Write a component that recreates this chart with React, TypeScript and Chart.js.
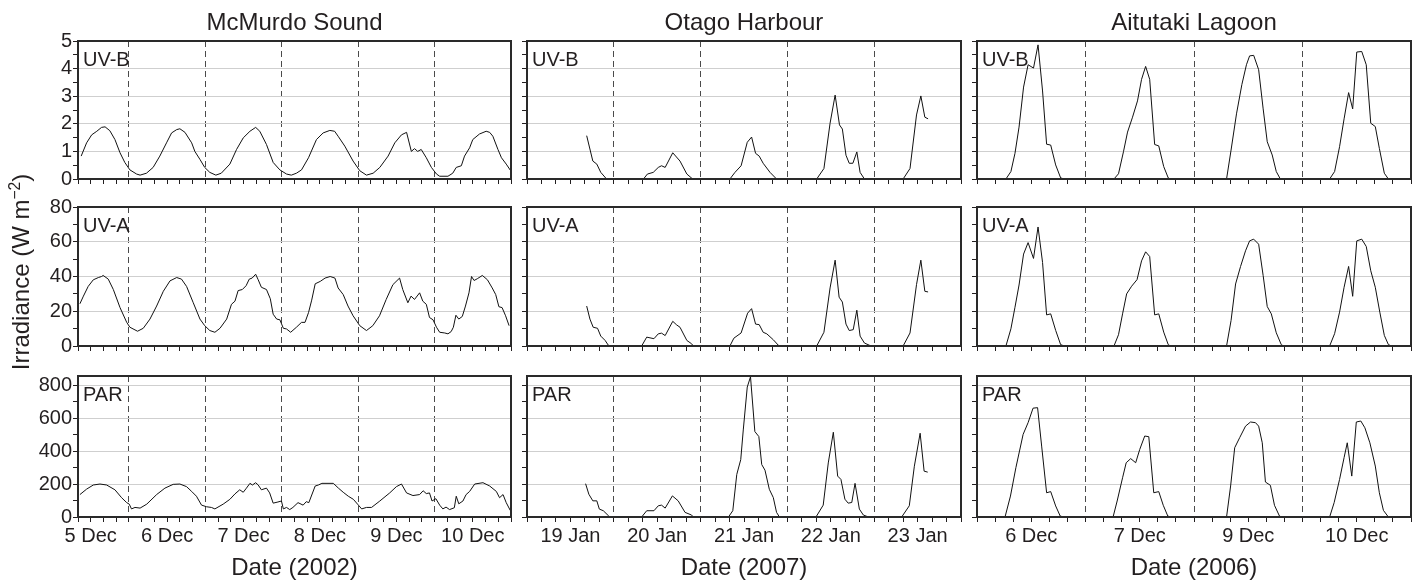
import React, { useEffect, useRef } from "react";
import { Chart, registerables } from "chart.js";

Chart.register(...registerables);

const FONT = '"Liberation Sans", Arial, Helvetica, sans-serif';
const INK = "#231f20";

// ---------------- text / category labels ----------------
const siteTitles = ["McMurdo Sound", "Otago Harbour", "Aitutaki Lagoon"];
const xAxisTitles = ["Date (2002)", "Date (2007)", "Date (2006)"];
const bandNames = ["UV-B", "UV-A", "PAR"];
const mcmDays = ["5 Dec", "6 Dec", "7 Dec", "8 Dec", "9 Dec", "10 Dec"];
const otaDays = ["19 Jan", "20 Jan", "21 Jan", "22 Jan", "23 Jan"];
const aitDays = ["6 Dec", "7 Dec", "9 Dec", "10 Dec"];

// ---------------- McMurdo Sound (hours from 5 Dec 00:00) ----------------
const mcmHoursUVB = [9, 10.7, 12.3, 13.9, 15.4, 16.5, 18, 19.6, 21.2, 22.7, 24.3, 26.4, 27.5, 29.5, 31.6, 33.7, 35.8, 37.4, 39, 40, 41.6, 43.7, 44.7, 46.3, 47.8, 49.4, 51.3, 53, 55.7, 57.8, 59.9, 62, 63.8, 65.1, 67.2, 69.3, 71.4, 73.5, 75, 76.6, 78.2, 80.4, 82.9, 85, 87.1, 88.6, 89.7, 91.8, 94.4, 96.5, 98.6, 100.7, 102.8, 105.4, 107.5, 109.6, 111.2, 112.7, 113.7, 114.7, 115.8, 117.4, 119, 120.6, 121.6, 124.2, 125.7, 126.8, 128.4, 129.4, 131, 132, 134.1, 136.2, 137.3, 138.3, 139.9, 141, 142.5, 143.9];
const mcmUVB = [0.83, 1.31, 1.6, 1.73, 1.87, 1.89, 1.75, 1.43, 0.95, 0.6, 0.33, 0.18, 0.14, 0.21, 0.42, 0.83, 1.31, 1.67, 1.79, 1.82, 1.69, 1.31, 1.0, 0.71, 0.42, 0.24, 0.14, 0.21, 0.54, 1.07, 1.49, 1.73, 1.87, 1.73, 1.25, 0.6, 0.33, 0.18, 0.14, 0.21, 0.33, 0.77, 1.43, 1.67, 1.76, 1.73, 1.55, 1.19, 0.65, 0.3, 0.14, 0.21, 0.42, 0.83, 1.31, 1.6, 1.69, 1.0, 1.1, 1.0, 1.07, 0.77, 0.42, 0.18, 0.1, 0.1, 0.21, 0.42, 0.48, 0.83, 1.13, 1.43, 1.63, 1.73, 1.69, 1.55, 1.07, 0.77, 0.54, 0.3];

const mcmHoursUVA = [8.6, 9.7, 11.2, 12.8, 14.4, 15.4, 15.9, 17.5, 19.1, 21.2, 23.3, 24.3, 26.7, 28.5, 30.6, 32.7, 34.8, 36.9, 39, 40.5, 42.1, 44.2, 46.3, 47.8, 49.4, 51, 52.6, 54.7, 56.2, 57.3, 58.3, 59.6, 60.8, 61.8, 62.7, 63.8, 64.6, 65.6, 67.2, 68.4, 69.3, 70.4, 71.4, 72.5, 73.5, 74.8, 76.6, 78.2, 79.3, 80.4, 81.4, 82.5, 84.1, 85.6, 87.2, 88.7, 89.7, 91.3, 92.8, 94.4, 96.5, 98.6, 100.6, 102.7, 104.8, 106.9, 109, 110, 111.6, 112.6, 113.7, 115.3, 116.3, 117.4, 118.4, 119.5, 120.6, 121.6, 123.2, 124.2, 125.2, 125.9, 126.7, 127.6, 128.7, 129.7, 130.8, 131.6, 132.4, 133.4, 135, 136.6, 138.1, 139.2, 140.2, 141.2, 142.3, 143.4];
const mcmUVA = [24.3, 28.7, 34.3, 38.1, 39.4, 40, 40.6, 38.5, 32.5, 22.1, 13.6, 10.8, 8.5, 10.2, 15.5, 23, 31.5, 37.5, 39.4, 38.5, 34.3, 24.9, 15.5, 11.7, 8.9, 7.9, 10.2, 15.5, 24, 25.8, 31.9, 32.5, 34.7, 38.5, 39.1, 41.3, 38.1, 33.8, 32.5, 27.2, 18.3, 15.5, 15.1, 10.2, 9.8, 7.9, 10.8, 13.6, 13.6, 19.2, 26.4, 35.8, 37.2, 39.1, 40, 39.1, 33.4, 29.6, 23, 17.4, 11.7, 8.9, 11.7, 17.4, 26.8, 35.3, 39.1, 32.5, 24.9, 28.7, 26.8, 30.6, 25.8, 24, 16.4, 15.1, 10.8, 7.9, 7.5, 7, 8.3, 10.8, 17.7, 15.5, 17, 23, 30.6, 40, 37.7, 38.7, 40.6, 38.1, 33.4, 29.6, 22.6, 22.1, 17.4, 11.7];

const mcmHoursPAR = [8.6, 10.7, 12.8, 14.9, 17, 19.6, 21.7, 23.3, 24.1, 24.8, 25.9, 27.5, 29.6, 32.7, 35.3, 37.9, 40, 42.1, 43.7, 45.2, 46.8, 48.4, 49.9, 51, 53.6, 55.7, 57.3, 58.8, 59.9, 60.9, 62, 62.8, 63.8, 64.6, 65.6, 67.2, 68.2, 69.3, 70.8, 71.9, 72.5, 73.5, 74.5, 75.5, 77.1, 78.7, 79.7, 80.5, 82.5, 83.5, 84.6, 88.2, 89.8, 91.3, 92.9, 94.5, 95.8, 97.1, 98.6, 100.2, 102.8, 105.9, 108, 109.6, 111.2, 113.2, 115.3, 116.4, 117.4, 118.4, 119.2, 120.4, 121.6, 122.6, 123.6, 124.7, 126.2, 126.8, 127.6, 128.9, 129.9, 131, 132.6, 135.2, 137.3, 139.4, 140.4, 141.5, 142.5, 143.8];
const mcmPAR = [136, 169, 194, 200, 194, 165, 117, 87, 78, 49, 58, 54, 78, 136, 175, 198, 200, 184, 155, 126, 72, 62, 58, 49, 78, 107, 140, 165, 150, 175, 204, 194, 208, 194, 165, 175, 146, 84, 91, 97, 49, 58, 45, 58, 87, 72, 93, 87, 188, 194, 204, 204, 175, 150, 126, 107, 78, 49, 58, 58, 97, 146, 184, 200, 146, 130, 136, 159, 142, 146, 97, 111, 72, 49, 60, 45, 56, 126, 80, 97, 136, 155, 200, 208, 188, 155, 117, 136, 87, 39];

// ---------------- Otago Harbour (hours from 19 Jan 00:00) ----------------
const otaHoursUVB = [16.5, 18.2, 19.3, 20.4, 22, 32.2, 33.3, 34.9, 36.3, 37.2, 38.2, 40.3, 42.3, 44.2, 45.8, 56.1, 57.5, 59.2, 60.9, 62.1, 63.2, 64.2, 65.3, 67.2, 69, 80.1, 82.1, 83.8, 85.2, 86.4, 87.2, 88.2, 89.1, 90.1, 91.2, 92.1, 93.3, 104, 105.9, 107.7, 108.9, 110, 110.9];
const otaUVB = [1.57, 0.65, 0.54, 0.24, 0, 0, 0.18, 0.24, 0.42, 0.48, 0.42, 0.95, 0.65, 0.18, 0, 0, 0.24, 0.48, 1.33, 1.52, 0.93, 0.83, 0.57, 0.24, 0, 0, 0.38, 2.02, 3.04, 1.96, 1.81, 0.86, 0.57, 0.57, 0.98, 0.24, 0, 0, 0.38, 2.32, 3.01, 2.24, 2.18];

const otaHoursUVA = [16.5, 17.4, 18.3, 19.5, 20.4, 21.6, 22.5, 23, 31.7, 33.1, 35.1, 36.3, 37.2, 38.2, 40.3, 41.4, 42.3, 44.2, 45.5, 46, 56.1, 57.2, 59.2, 61, 62.1, 63.2, 64.2, 65.3, 66.3, 68.1, 69.5, 70, 80.1, 82.1, 83.8, 85.2, 86.3, 87.2, 88.2, 89.1, 90.2, 91.2, 92.1, 93.3, 94.7, 95, 104, 105.9, 107.7, 108.9, 110, 110.9];
const otaUVA = [23, 15.5, 10.8, 10.2, 5.7, 3.2, 0.4, 0, 0, 5.1, 4.2, 7, 7.4, 6, 14.2, 12.1, 10.8, 3.2, 1.3, 0, 0, 4.5, 7.5, 18.9, 21.5, 12.6, 12.3, 7.9, 7, 3.6, 0.4, 0, 0, 7.9, 33.4, 49.4, 28.1, 25.3, 12.6, 8.9, 9.4, 20.6, 5.7, 1.7, 0.4, 0, 0, 7.5, 35.3, 49.4, 31.5, 31.1];

const otaHoursPAR = [16.2, 17.1, 18.2, 19.3, 20, 21.1, 22.5, 22.9, 31.7, 33.1, 35.1, 36.3, 37.2, 38.2, 40.2, 41.8, 43.7, 45.5, 46, 55.7, 56.9, 58, 59.1, 59.8, 60.9, 61.8, 63, 64.1, 64.9, 65.8, 67, 68.1, 69, 69.8, 79.9, 81.9, 83.3, 84.7, 85.9, 86.8, 87.9, 88.8, 89.8, 90.7, 91.9, 93, 94.4, 103.6, 105.7, 107.1, 108.7, 109.8, 110.8];
const otaPAR = [202, 138, 98, 98, 48, 38, 8, 0, 0, 38, 38, 68, 72, 54, 128, 98, 28, 12, 0, 0, 38, 258, 348, 528, 788, 850, 518, 488, 318, 284, 168, 118, 28, 0, 0, 72, 328, 514, 248, 228, 108, 84, 88, 204, 48, 12, 0, 0, 68, 308, 508, 278, 272];

// ---------------- Aitutaki Lagoon (hours across the four sampled days) ----------------
const aitHoursUVB = [6.4, 7.5, 8.4, 9.3, 10.3, 11.3, 12.5, 13.5, 14.5, 15.4, 16.3, 17.4, 18.5, 19.3, 30.3, 31.3, 32.4, 33.3, 34.4, 35.5, 36.4, 37.3, 38.2, 39.3, 40.2, 41.3, 42.3, 42.8, 55.2, 56.2, 57.4, 58.6, 59.6, 60.3, 61.2, 62.3, 63.3, 64.2, 65.3, 66.2, 67.1, 78, 79.1, 80.2, 81.2, 82.2, 83.1, 84, 85.1, 86.1, 87.1, 88.1, 89, 90.1, 91];
const aitUVB = [0, 0.27, 0.93, 1.88, 3.33, 4.14, 4.02, 4.86, 3.19, 1.26, 1.23, 0.51, 0.04, 0, 0, 0.19, 0.99, 1.7, 2.24, 2.83, 3.61, 4.08, 3.61, 1.25, 1.2, 0.45, 0.04, 0, 0, 1.05, 2.36, 3.43, 4.14, 4.46, 4.48, 3.96, 2.54, 1.35, 0.87, 0.27, 0, 0, 0.27, 1.17, 2.18, 3.13, 2.54, 4.6, 4.62, 4.14, 2.02, 1.9, 1.11, 0.21, 0];

const aitHoursUVA = [6.4, 7.5, 8.4, 9.3, 10.3, 11.3, 12.5, 13.5, 14.5, 15.4, 16.3, 17.4, 18.5, 19.3, 30.3, 31.3, 32.2, 33.1, 34.2, 35.4, 36.4, 37.3, 38.2, 39.3, 40.2, 41.3, 42.3, 42.8, 55.2, 56.2, 57.2, 58.3, 59.4, 60.3, 61.2, 62.3, 63.3, 64.2, 65.1, 66.2, 67.3, 67.8, 78, 79.1, 80.2, 81.2, 82.2, 83.1, 84, 85.1, 86.1, 87.1, 88.1, 89.1, 90.1, 91, 91.7];
const aitUVA = [0, 9.9, 22.3, 35.1, 52.9, 59.5, 50.4, 68.5, 48.1, 17.9, 18.5, 9, 0.8, 0, 0, 6.5, 18.5, 30, 34.4, 38.2, 49, 54.2, 51.5, 17.9, 18.5, 8, 0.8, 0, 0, 14.7, 35.7, 45.8, 54.8, 60.5, 61.5, 58.6, 40.5, 22.7, 18.5, 7.6, 0.8, 0, 0, 7.1, 19.5, 33.8, 45.8, 28.6, 60.5, 61.5, 57.3, 43.3, 33.8, 19.5, 6.1, 0.8, 0];

const aitHoursPAR = [6.2, 7.4, 8.6, 10.2, 11.3, 12.4, 13.4, 14.3, 15.4, 16.3, 17.4, 18.4, 19.1, 30.1, 31, 32.2, 33, 34, 35.1, 36, 37.1, 38, 39.1, 40.2, 41.2, 42.2, 42.8, 55.2, 56.1, 57, 58.1, 59.4, 60.5, 61.6, 62.3, 63.1, 63.8, 64.9, 65.8, 66.9, 67.4, 78, 79, 80.2, 81.2, 81.9, 82.9, 83.9, 84.9, 85.8, 86.9, 88.1, 89, 89.9, 91];
const aitPAR = [0, 127, 299, 501, 572, 660, 663, 430, 147, 154, 67, 6, 0, 0, 97, 238, 329, 354, 329, 410, 491, 487, 147, 154, 71, 6, 0, 0, 188, 420, 481, 551, 576, 572, 551, 450, 212, 192, 71, 6, 0, 0, 87, 228, 360, 450, 248, 576, 582, 541, 450, 309, 147, 40, 0];

// ---------------- structure ----------------
const sites = [
  { min: 8, max: 144, days: mcmDays },
  { min: 0, max: 120, days: otaDays },
  { min: 0, max: 96, days: aitDays },
];
const yBands = [
  { max: 5, step: 0.5, major: 1 },
  { max: 80, step: 10, major: 20 },
  { max: 855, step: 100, major: 200 },
];
const series = [
  [[mcmHoursUVB, mcmUVB], [otaHoursUVB, otaUVB], [aitHoursUVB, aitUVB]],
  [[mcmHoursUVA, mcmUVA], [otaHoursUVA, otaUVA], [aitHoursUVA, aitUVA]],
  [[mcmHoursPAR, mcmPAR], [otaHoursPAR, otaPAR], [aitHoursPAR, aitPAR]],
];

// layout (plot-area rectangles)
const colLeft = [78, 527, 977];
const colRight = [511, 961, 1411];
const rowTop = [40, 206, 375];
const rowBottom = [180, 347, 517];

const CLEAR = "rgba(0,0,0,0)";

function Panel({ row, col }: { row: number; col: number }) {
  const ref = useRef<HTMLCanvasElement | null>(null);
  const padL = col === 0 ? 60 : 10;
  const padT = 12;
  const padR = 6;
  const padB = row === 2 ? 40 : 12;
  const plotW = colRight[col] - colLeft[col];
  const plotH = rowBottom[row] - rowTop[row];
  const cw = plotW + padL + padR;
  const ch = plotH + padT + padB;

  useEffect(() => {
    const site = sites[col];
    const band = yBands[row];
    const [xs, ys] = series[row][col];
    const label = bandNames[row];

    const xTicks: number[] = [];
    for (let v = site.min; v <= site.max + 1e-9; v += 4) xTicks.push(v);
    const yTicks: number[] = [];
    for (let v = 0; v <= band.max + 1e-9; v += band.step) yTicks.push(Math.round(v * 1000) / 1000);

    const isMajor = (v: number) => Math.abs(v / band.major - Math.round(v / band.major)) < 1e-6;
    const isMidnight = (v: number) => v > site.min && v < site.max && Math.abs(v / 24 - Math.round(v / 24)) < 1e-6;

    const panelPlugin = {
      id: "panelFrame",
      beforeDatasetsDraw(chart: any) {
        const { ctx, chartArea } = chart;
        ctx.save();
        ctx.font = `20px ${FONT}`;
        ctx.fillStyle = INK;
        ctx.textBaseline = "alphabetic";
        ctx.textAlign = "left";
        ctx.fillText(label, chartArea.left + 5, chartArea.top + 25);
        ctx.restore();
      },
      afterDraw(chart: any) {
        const { ctx, chartArea } = chart;
        ctx.save();
        ctx.strokeStyle = "#2a2a2a";
        ctx.lineWidth = 2;
        ctx.setLineDash([]);
        ctx.strokeRect(chartArea.left, chartArea.top, chartArea.right - chartArea.left, chartArea.bottom - chartArea.top);
        ctx.restore();
      },
    };

    const chart = new Chart(ref.current as HTMLCanvasElement, {
      type: "line",
      data: {
        datasets: [
          {
            data: xs.map((x, i) => ({ x, y: ys[i] })),
            borderColor: "#111",
            borderWidth: 1,
            pointRadius: 0,
            tension: 0,
            fill: false,
          },
        ],
      },
      options: {
        animation: false,
        responsive: false,
        devicePixelRatio: 1,
        events: [],
        layout: { padding: { left: 0, top: padT, right: padR, bottom: 0 }, autoPadding: false },
        plugins: { legend: { display: false }, tooltip: { enabled: false }, title: { display: false } },
        scales: {
          x: {
            type: "linear",
            min: site.min,
            max: site.max,
            afterBuildTicks: (s: any) => {
              s.ticks = xTicks.map((v) => ({ value: v }));
            },
            afterFit: (s: any) => {
              s.height = padB;
            },
            ticks: {
              autoSkip: false,
              maxRotation: 0,
              minRotation: 0,
              padding: 2,
              color: INK,
              font: { family: FONT, size: 20 },
              callback: (value: any) => {
                if (row !== 2) return "";
                const k = (Number(value) - 12) / 24;
                if (Math.abs(k - Math.round(k)) < 1e-6) {
                  const idx = Math.round(k);
                  if (idx >= 0 && idx < site.days.length) return site.days[idx];
                }
                return "";
              },
            },
            grid: {
              color: (ctx: any) => (ctx.tick && isMidnight(ctx.tick.value) ? "#4a4a4a" : CLEAR),
              lineWidth: 1,
              drawTicks: true,
              tickLength: 5,
              tickColor: INK,
              tickWidth: 1,
            },
            border: { display: false, dash: [6, 4] },
          },
          y: {
            type: "linear",
            min: 0,
            max: band.max,
            afterBuildTicks: (s: any) => {
              s.ticks = yTicks.map((v) => ({ value: v }));
            },
            afterFit: (s: any) => {
              s.width = padL;
            },
            ticks: {
              autoSkip: false,
              padding: 1,
              color: INK,
              font: { family: FONT, size: 20 },
              callback: (value: any) => {
                const v = Number(value);
                return col === 0 && isMajor(v) ? String(v) : "";
              },
            },
            grid: {
              color: (ctx: any) => {
                if (!ctx.tick) return CLEAR;
                const v = ctx.tick.value;
                return isMajor(v) && v > 0 && v < band.max - 1e-6 ? "#cfcfcf" : CLEAR;
              },
              lineWidth: 1,
              drawTicks: true,
              tickLength: 5,
              tickColor: INK,
              tickWidth: 1,
            },
            border: { display: false },
          },
        },
      } as any,
      plugins: [panelPlugin],
    });
    return () => chart.destroy();
  }, [row, col]);

  return (
    <canvas
      ref={ref}
      width={cw}
      height={ch}
      style={{ position: "absolute", left: colLeft[col] - padL, top: rowTop[row] - padT, width: cw, height: ch }}
    />
  );
}

export default function App() {
  const panels: React.ReactNode[] = [];
  for (let r = 0; r < 3; r++) for (let c = 0; c < 3; c++) panels.push(<Panel key={`${r}-${c}`} row={r} col={c} />);
  return (
    <div
      style={{
        position: "fixed",
        left: 0,
        top: 0,
        width: 1417,
        height: 581,
        background: "#fff",
        overflow: "hidden",
        fontFamily: FONT,
        color: INK,
      }}
    >
      {panels}
      {siteTitles.map((t, c) => (
        <div
          key={t}
          style={{
            position: "absolute",
            left: colLeft[c],
            width: colRight[c] - colLeft[c],
            top: 10,
            height: 24,
            lineHeight: "24px",
            fontSize: 24,
            textAlign: "center",
            whiteSpace: "nowrap",
          }}
        >
          {t}
        </div>
      ))}
      {xAxisTitles.map((t, c) => (
        <div
          key={t}
          style={{
            position: "absolute",
            left: colLeft[c],
            width: colRight[c] - colLeft[c],
            top: 555,
            height: 24,
            lineHeight: "24px",
            fontSize: 24,
            textAlign: "center",
            whiteSpace: "nowrap",
          }}
        >
          {t}
        </div>
      ))}
      <div
        style={{
          position: "absolute",
          left: 21 - 150,
          top: 272 - 12,
          width: 300,
          height: 24,
          lineHeight: "24px",
          fontSize: 24,
          textAlign: "center",
          whiteSpace: "nowrap",
          transform: "rotate(-90deg)",
        }}
      >
        Irradiance (W m<span style={{ fontSize: "0.65em", position: "relative", top: "-0.55em" }}>−2</span>)
      </div>
    </div>
  );
}
